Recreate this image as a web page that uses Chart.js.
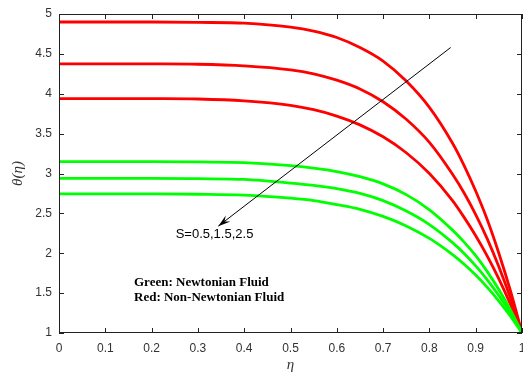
<!DOCTYPE html>
<html>
<head>
<meta charset="utf-8">
<script src="https://cdn.jsdelivr.net/npm/chart.js@4.4.1/dist/chart.umd.min.js"></script>
<style>
  html, body { margin: 0; padding: 0; background: #fff; }
  canvas { display: block; }
</style>
</head>
<body>
<canvas id="thetaChart" width="523" height="376"></canvas>
<script>
const eta = [0, 0.1, 0.2, 0.3, 0.4, 0.5, 0.55, 0.6, 0.65, 0.7, 0.75, 0.8, 0.85, 0.875, 0.9, 0.925, 0.95, 0.975, 1];

// Red: Non-Newtonian (S = 0.5, 1.5, 2.5)
const redS05 = [4.90, 4.90, 4.90, 4.895, 4.885, 4.835, 4.785, 4.705, 4.58, 4.41, 4.16, 3.83, 3.38, 3.10, 2.78, 2.42, 2.00, 1.53, 1.00];
const redS15 = [4.375, 4.375, 4.374, 4.37, 4.35, 4.30, 4.25, 4.17, 4.06, 3.90, 3.68, 3.39, 2.99, 2.755, 2.485, 2.18, 1.83, 1.44, 1.00];
const redS25 = [3.94, 3.94, 3.939, 3.934, 3.91, 3.854, 3.80, 3.72, 3.61, 3.46, 3.26, 3.00, 2.66, 2.45, 2.22, 1.965, 1.68, 1.36, 1.00];

// Green: Newtonian (S = 0.5, 1.5, 2.5)
const greenS05 = [3.15, 3.15, 3.15, 3.145, 3.137, 3.10, 3.068, 3.025, 2.96, 2.87, 2.735, 2.545, 2.29, 2.14, 1.97, 1.77, 1.545, 1.29, 1.00];
const greenS15 = [2.94, 2.94, 2.94, 2.935, 2.926, 2.88, 2.85, 2.81, 2.75, 2.66, 2.53, 2.36, 2.133, 1.997, 1.842, 1.667, 1.47, 1.25, 1.00];
const greenS25 = [2.745, 2.745, 2.744, 2.74, 2.729, 2.69, 2.66, 2.61, 2.551, 2.462, 2.343, 2.186, 1.983, 1.862, 1.726, 1.572, 1.401, 1.211, 1.00];

// tick labels
const xTicks = [0, 0.1, 0.2, 0.3, 0.4, 0.5, 0.6, 0.7, 0.8, 0.9, 1];
const yTicks = [1, 1.5, 2, 2.5, 3, 3.5, 4, 4.5, 5];

// arrow + labels (data units)
const arrowFrom = [0.846, 4.58];
const arrowTo = [0.344, 2.34];
const sLabel = "S=0.5,1.5,2.5";
const sLabelPos = [0.252, 2.24];
const legendLines = ["Green: Newtonian Fluid", "Red: Non-Newtonian Fluid"];
const legendPos = [[0.162, 1.627], [0.162, 1.447]];

function toPoints(ys) {
    return eta.map((x, i) => ({ x: x, y: ys[i] }));
}

function curve(ys, color) {
    return {
        data: toPoints(ys),
        borderColor: color,
        borderWidth: 2.8,
        pointRadius: 0,
        fill: false,
        cubicInterpolationMode: "monotone"
    };
}

// frame, inward ticks and text notes
const framePlugin = {
    id: "framePlugin",
    afterDatasetsDraw(chart) {
        const ctx = chart.ctx;
        const a = chart.chartArea;
        const xs = chart.scales.x;
        const ys = chart.scales.y;
        const tick = 5;

        ctx.save();
        ctx.strokeStyle = "#222";
        ctx.lineWidth = 1;
        ctx.strokeRect(a.left + 0.5, a.top + 0.5, a.right - a.left - 1, a.bottom - a.top - 1);

        ctx.beginPath();
        xTicks.forEach(v => {
            const px = Math.round(xs.getPixelForValue(v)) + 0.5;
            ctx.moveTo(px, a.bottom); ctx.lineTo(px, a.bottom - tick);
            ctx.moveTo(px, a.top); ctx.lineTo(px, a.top + tick);
        });
        yTicks.forEach(v => {
            const py = Math.round(ys.getPixelForValue(v)) + 0.5;
            ctx.moveTo(a.left, py); ctx.lineTo(a.left + tick, py);
            ctx.moveTo(a.right, py); ctx.lineTo(a.right - tick, py);
        });
        ctx.stroke();

        // arrow
        const x1 = xs.getPixelForValue(arrowFrom[0]), y1 = ys.getPixelForValue(arrowFrom[1]);
        const x2 = xs.getPixelForValue(arrowTo[0]), y2 = ys.getPixelForValue(arrowTo[1]);
        ctx.strokeStyle = "#000";
        ctx.lineWidth = 1;
        ctx.beginPath();
        ctx.moveTo(x1, y1);
        ctx.lineTo(x2, y2);
        ctx.stroke();
        const ang = Math.atan2(y2 - y1, x2 - x1);
        const len = 13, spread = 0.3;
        ctx.fillStyle = "#000";
        ctx.beginPath();
        ctx.moveTo(x2, y2);
        ctx.lineTo(x2 - len * Math.cos(ang - spread), y2 - len * Math.sin(ang - spread));
        ctx.lineTo(x2 - 0.6 * len * Math.cos(ang), y2 - 0.6 * len * Math.sin(ang));
        ctx.lineTo(x2 - len * Math.cos(ang + spread), y2 - len * Math.sin(ang + spread));
        ctx.closePath();
        ctx.fill();

        // S label
        ctx.fillStyle = "#000";
        ctx.textBaseline = "middle";
        ctx.textAlign = "left";
        ctx.font = "13px 'Liberation Sans', Arial, sans-serif";
        ctx.fillText(sLabel, xs.getPixelForValue(sLabelPos[0]), ys.getPixelForValue(sLabelPos[1]));

        // legend notes
        ctx.font = "bold 13px 'Liberation Serif', 'Times New Roman', serif";
        legendLines.forEach((t, i) => {
            ctx.fillText(t, xs.getPixelForValue(legendPos[i][0]), ys.getPixelForValue(legendPos[i][1]));
        });
        ctx.restore();
    }
};

new Chart(document.getElementById("thetaChart").getContext("2d"), {
    type: "line",
    data: {
        datasets: [
            curve(greenS25, "#00ff00"),
            curve(greenS15, "#00ff00"),
            curve(greenS05, "#00ff00"),
            curve(redS25, "#ff0000"),
            curve(redS15, "#ff0000"),
            curve(redS05, "#ff0000")
        ]
    },
    options: {
        responsive: false,
        animation: false,
        devicePixelRatio: 1,
        layout: { padding: { top: 14, right: 1, left: 0, bottom: 0 } },
        plugins: {
            legend: { display: false },
            tooltip: { enabled: false }
        },
        scales: {
            x: {
                type: "linear",
                min: 0,
                max: 1,
                afterBuildTicks: s => { s.ticks = xTicks.map(v => ({ value: v })); },
                afterFit: s => { s.height = 43; s.paddingLeft = 0; s.paddingRight = 0; },
                grid: { display: false, drawTicks: false },
                border: { display: false },
                ticks: {
                    padding: 8,
                    color: "#333",
                    font: { family: "'Liberation Sans', Arial, sans-serif", size: 12 },
                    maxRotation: 0,
                    callback: v => String(v)
                },
                title: {
                    display: true,
                    text: "η",
                    color: "#333",
                    font: { family: "'Liberation Serif', 'Times New Roman', serif", size: 15, style: "italic" },
                    padding: { top: 0, bottom: 2 }
                }
            },
            y: {
                type: "linear",
                min: 1,
                max: 5,
                afterBuildTicks: s => { s.ticks = yTicks.map(v => ({ value: v })); },
                afterFit: s => { s.width = 59; s.paddingTop = 0; s.paddingBottom = 0; },
                grid: { display: false, drawTicks: false },
                border: { display: false },
                ticks: {
                    padding: 7,
                    color: "#333",
                    font: { family: "'Liberation Sans', Arial, sans-serif", size: 12 },
                    callback: v => String(v)
                },
                title: {
                    display: true,
                    text: "θ(η)",
                    color: "#333",
                    font: { family: "'Liberation Serif', 'Times New Roman', serif", size: 15, style: "italic" },
                    padding: { top: 9, bottom: 0 }
                }
            }
        }
    },
    plugins: [framePlugin]
});
</script>
</body>
</html>
